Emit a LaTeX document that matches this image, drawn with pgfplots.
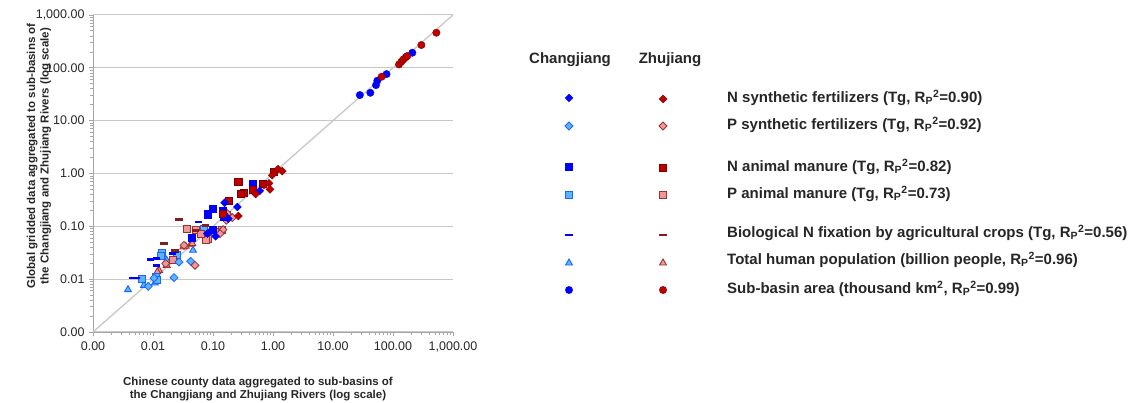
\documentclass[border=0pt]{standalone}
\usepackage{pgfplots}
\pgfplotsset{compat=1.18}
\usepackage{fontspec}
\setmainfont{Liberation Sans}
\definecolor{cjN}{RGB}{0,0,255}
\definecolor{cjPf}{RGB}{90,180,255}
\definecolor{cjPd}{RGB}{30,100,255}
\definecolor{zjN}{RGB}{192,0,0}
\definecolor{zjNd}{RGB}{120,0,0}
\definecolor{zjPf}{RGB}{242,150,150}
\definecolor{zjPd}{RGB}{150,50,50}
\definecolor{zjB}{RGB}{130,30,30}
\definecolor{gridc}{RGB}{200,200,200}
\pgfplotsset{
  sCJNf/.style={only marks, mark=square*, mark size=2.8pt, mark options={rotate=45, fill=cjN, draw=cjN}},
  sZJNf/.style={only marks, mark=square*, mark size=2.8pt, mark options={rotate=45, fill=zjN, draw=zjNd}},
  sCJPf/.style={only marks, mark=square*, mark size=2.8pt, mark options={rotate=45, fill=cjPf, draw=cjPd, line width=0.8pt}},
  sZJPf/.style={only marks, mark=square*, mark size=2.8pt, mark options={rotate=45, fill=zjPf, draw=zjPd, line width=0.8pt}},
  sCJNm/.style={only marks, mark=square*, mark size=3.6pt, mark options={fill=cjN, draw=cjN}},
  sZJNm/.style={only marks, mark=square*, mark size=3.6pt, mark options={fill=zjN, draw=zjNd}},
  sCJPm/.style={only marks, mark=square*, mark size=3.4pt, mark options={fill=cjPf, draw=cjPd, line width=0.9pt}},
  sZJPm/.style={only marks, mark=square*, mark size=3.4pt, mark options={fill=zjPf, draw=zjPd, line width=0.9pt}},
  sCJB/.style={only marks, mark=-, mark size=3.8pt, mark options={draw=cjN, line width=2.8pt}},
  sZJB/.style={only marks, mark=-, mark size=3.8pt, mark options={draw=zjB, line width=2.8pt}},
  sCJT/.style={only marks, mark=triangle*, mark size=4pt, mark options={fill=cjPf, draw=cjPd, line width=0.9pt}},
  sZJT/.style={only marks, mark=triangle*, mark size=4pt, mark options={fill=zjPf, draw=zjPd, line width=0.9pt}},
  sCJA/.style={only marks, mark=*, mark size=3.7pt, mark options={fill=cjN, draw=cjN}},
  sZJA/.style={only marks, mark=*, mark size=3.7pt, mark options={fill=zjN, draw=zjNd}},
}
\begin{document}
\begin{tikzpicture}[x=1pt,y=1pt]
\useasboundingbox (0,0) rectangle (1134,403);
\begin{axis}[
  at={(93pt,71pt)}, anchor=south west,
  scale only axis, width=360pt, height=317pt,
  xmode=log, ymode=log,
  xmin=0.001, xmax=1000, ymin=0.001, ymax=1000,
  axis x line*=bottom, axis y line*=left,
  axis line style={gray!70, line width=0.8pt},
  xtick={0.001,0.01,0.1,1,10,100,1000},
  ytick={0.001,0.01,0.1,1,10,100,1000},
  xticklabels={0.00,0.01,0.10,1.00,10.00,100.00,{1,000.00}},
  yticklabels={0.00,0.01,0.10,1.00,10.00,100.00,{1,000.00}},
  minor xtick={}, minor ytick={},
  tick align=outside, major tick length=4pt,
  tick style={gray!70, line width=0.8pt},
  ymajorgrids, grid style={gridc, line width=1pt},
  ticklabel style={font=\fontsize{12.5}{14}\selectfont, text=black!85},
  xticklabel style={yshift=-2pt},
  yticklabel style={xshift=-1pt},
  clip=false,
]
\addplot[no marks, gridc, line width=1.3pt] coordinates {(0.001,0.001) (1000,1000)};
% area
\addplot[sCJA] coordinates {(28,30.5) (41.9,33.7) (52,47) (54.8,57) (78,76) (210,193)};
\addplot[sZJA] coordinates {(64.7,67.8) (126,116) (138,131) (149,144) (163,158) (173,167) (297,270) (528,462)};
% population
\addplot[sCJT] coordinates {(0.0464,0.0352) (0.00708,0.00764) (0.0107,0.00846) (0.00383,0.00632) (0.0169,0.0228)};
\addplot[sZJT] coordinates {(0.0425,0.0457) (0.0453,0.0471) (0.0321,0.0407) (0.0350,0.0419) (0.0126,0.0147) (0.0118,0.0137) (0.0169,0.0183)};
% P manure
\addplot[sCJPm] coordinates {(0.0708,0.0905) (0.0143,0.0318) (0.0134,0.0271) (0.0248,0.0291) (0.00647,0.0102) (0.0111,0.0110) (0.0118,0.0098)};
\addplot[sZJPm] coordinates {(0.0373,0.0879) (0.0514,0.0841) (0.0836,0.0586) (0.0755,0.0561) (0.118,0.0783) (0.139,0.0867) (0.173,0.162) (0.0218,0.0234) (0.0622,0.0728)};
% P fert
\addplot[sCJPf] coordinates {(0.0224,0.0107) (0.0271,0.0211) (0.0425,0.0218) (0.00835,0.00731) (0.0104,0.0105) (0.104,0.0728)};
\addplot[sZJPf] coordinates {(0.0501,0.0183) (0.147,0.0867) (0.131,0.0728) (0.167,0.130) (0.210,0.1465) (0.173,0.174) (0.0329,0.0437) (0.0163,0.0197)};
% BNF
\addplot[sCJB] coordinates {(0.0570,0.121) (0.00914,0.0234) (0.0115,0.0245) (0.0230,0.0327) (0.0210,0.0304) (0.0114,0.0183) (0.00464,0.0105) (0.00527,0.0105)};
\addplot[sZJB] coordinates {(0.0271,0.136) (0.0152,0.0471) (0.0230,0.0352) (0.0755,0.1033) (0.0514,0.0841)};
% N manure
\addplot[sCJNm] coordinates {(0.453,0.65) (0.1,0.217) (0.0826,0.169) (0.147,0.196) (0.152,0.151) (0.0441,0.0612) (0.0975,0.0867)};
\addplot[sZJNm] coordinates {(1.04,1.07) (0.264,0.69) (0.321,0.43) (0.289,0.42) (0.453,0.50) (0.681,0.63) (0.185,0.31) (0.143,0.174)};
% N fert
\addplot[sCJNf] coordinates {(0.600,0.47) (0.255,0.233) (0.156,0.28) (0.180,0.140) (0.0938,0.0841) (0.111,0.0648) (0.0805,0.0728)};
\addplot[sZJNf] coordinates {(0.975,0.93) (1.21,1.21) (1.43,1.11) (0.708,0.60) (0.857,0.65) (0.891,0.50) (0.514,0.41) (0.264,0.157)};
\end{axis}
% overlay axis in pixel units for labels and legend
\begin{axis}[
  at={(0pt,0pt)}, anchor=south west,
  scale only axis, width=1134pt, height=403pt,
  xmin=0, xmax=1134, ymin=0, ymax=403, y dir=reverse,
  axis lines=none, clip=false,
]
\node[rotate=90, align=center, font=\bfseries\fontsize{11.5}{13.5}\selectfont, text=black!85] at (axis cs:39,156)
  {Global gridded data aggregated to sub-basins of\\the Changjiang and Zhujiang Rivers (log scale)};
\node[align=center, font=\bfseries\fontsize{11.5}{13.5}\selectfont, text=black!85] at (axis cs:258,389)
  {Chinese county data aggregated to sub-basins of\\the Changjiang and Zhujiang Rivers (log scale)};
\node[font=\bfseries\fontsize{15}{17}\selectfont, text=black!85] at (axis cs:570,60) {Changjiang};
\node[font=\bfseries\fontsize{15}{17}\selectfont, text=black!85] at (axis cs:670,60) {Zhujiang};
\addplot[sCJNf] coordinates {(569,98)};
\addplot[sZJNf] coordinates {(663,99)};
\addplot[sCJPf] coordinates {(569,126)};
\addplot[sZJPf] coordinates {(663,126)};
\addplot[sCJNm] coordinates {(569,167)};
\addplot[sZJNm] coordinates {(663,168)};
\addplot[sCJPm] coordinates {(569,195)};
\addplot[sZJPm] coordinates {(663,195)};
\addplot[sCJB] coordinates {(569,235)};
\addplot[sZJB] coordinates {(663,235)};
\addplot[sCJT] coordinates {(569,263)};
\addplot[sZJT] coordinates {(663,263)};
\addplot[sCJA] coordinates {(569,290)};
\addplot[sZJA] coordinates {(663,290)};
\begin{scope}[every node/.style={anchor=west, font=\bfseries\fontsize{15}{17}\selectfont, text=black!85, inner sep=0pt}]
\node at (axis cs:727,98) {N synthetic fertilizers (Tg, R\textsubscript{P}\textsuperscript{2}=0.90)};
\node at (axis cs:727,125) {P synthetic fertilizers (Tg, R\textsubscript{P}\textsuperscript{2}=0.92)};
\node at (axis cs:727,167) {N animal manure (Tg, R\textsubscript{P}\textsuperscript{2}=0.82)};
\node at (axis cs:727,194) {P animal manure (Tg, R\textsubscript{P}\textsuperscript{2}=0.73)};
\node at (axis cs:727,233) {Biological N fixation by agricultural crops (Tg, R\textsubscript{P}\textsuperscript{2}=0.56)};
\node at (axis cs:727,260) {Total human population (billion people, R\textsubscript{P}\textsuperscript{2}=0.96)};
\node at (axis cs:727,289) {Sub-basin area (thousand km\textsuperscript{2}, R\textsubscript{P}\textsuperscript{2}=0.99)};
\end{scope}
\end{axis}
\end{tikzpicture}
\end{document}
